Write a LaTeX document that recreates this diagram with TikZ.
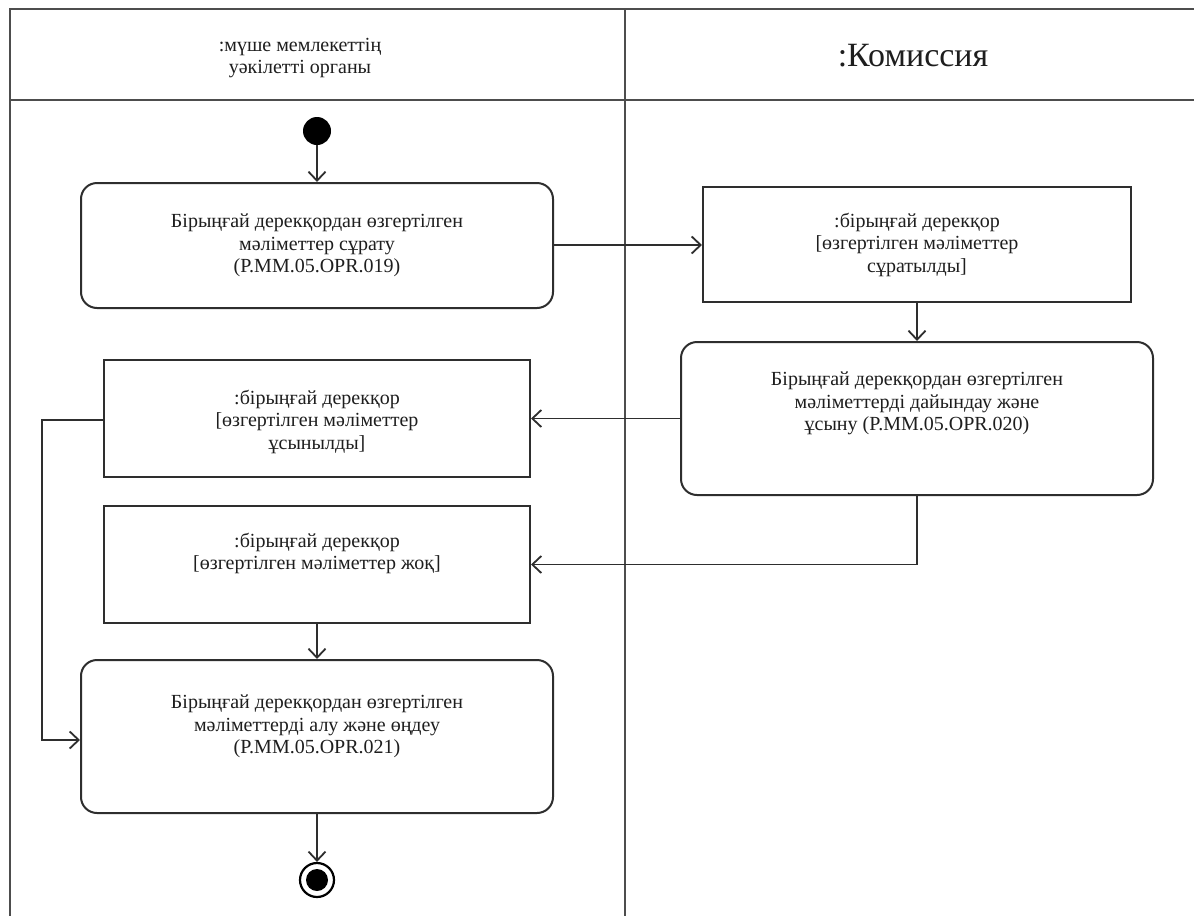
\documentclass[tikz,border=0pt]{standalone}
\usepackage{fontspec}
\setmainfont{Liberation Serif}
\usetikzlibrary{arrows.meta}
\definecolor{ink}{HTML}{2e2e2e}
\definecolor{txt}{HTML}{1e1e1e}
\begin{document}
\begin{tikzpicture}[x=1pt,y=-1pt,
  frame/.style={draw=ink!85,line width=2.6pt},
  boxfont/.style={text=txt,font=\fontsize{20}{22.5}\selectfont},
  actbox/.style={draw=ink,line width=2pt,rounded corners=16pt,align=center,boxfont},
  objbox/.style={draw=ink,line width=2pt,align=center,boxfont},
  flow/.style={draw=ink,line width=1.8pt,-{Straight Barb[length=9pt,width=17pt,line width=1.8pt]}}]
\useasboundingbox (0,0) rectangle (1194,916);
\fill[white] (0,0) rectangle (1194,916);
% swimlanes
\draw[frame] (1194,9) -- (10,9) -- (10,916);
\draw[frame] (10,100) -- (1194,100);
\draw[frame] (625,9) -- (625,916);
\node[align=center,text=txt,font=\fontsize{20}{22.5}\selectfont] (lane1) at (300,58) {:мүше мемлекеттің\\уәкілетті органы};
\node[text=txt,font=\fontsize{34}{38}\selectfont] (lane2) at (913,56) {:Комиссия};
% nodes
\node[circle,fill=black,minimum size=28pt,inner sep=0pt] (start) at (317,131) {};
\node[actbox,minimum width=472pt,minimum height=125pt] (A) at (317,245.5) {Бірыңғай дерекқордан өзгертілген\\мәліметтер сұрату\\(P.MM.05.OPR.019)};
\node[objbox,minimum width=428pt,minimum height=115pt] (B) at (917,244.5) {:бірыңғай дерекқор\\{[}өзгертілген мәліметтер\\сұратылды{]}};
\node[actbox,minimum width=472pt,minimum height=153pt,
  label={[align=center,boxfont,yshift=15pt]center:Бірыңғай дерекқордан өзгертілген\\мәліметтерді дайындау және\\ұсыну (P.MM.05.OPR.020)}] (C) at (917,418.5) {};
\node[objbox,minimum width=426pt,minimum height=117pt,
  label={[align=center,boxfont,yshift=-3pt]center:{:бірыңғай дерекқор}\\{[}өзгертілген мәліметтер\\ұсынылды{]}}] (D) at (317,418.5) {};
\node[objbox,minimum width=426pt,minimum height=117pt,
  label={[align=center,boxfont,yshift=11pt]center:{:бірыңғай дерекқор}\\{[}өзгертілген мәліметтер жоқ{]}}] (E) at (317,564.5) {};
\node[actbox,minimum width=472pt,minimum height=153pt,
  label={[align=center,boxfont,yshift=10pt]center:Бірыңғай дерекқордан өзгертілген\\мәліметтерді алу және өңдеу\\(P.MM.05.OPR.021)}] (F) at (317,736.5) {};
\node[circle,draw=black,line width=2.2pt,minimum size=34pt,inner sep=0pt] (end) at (317,880) {};
\node[circle,fill=black,minimum size=22pt,inner sep=0pt] (endin) at (end.center) {};
% connectors
\coordinate (ab) at (553,245);
\coordinate (dL) at (42,420);
\coordinate (fL) at (42,740);
\draw[flow] (start) -- (A);
\draw[flow] (A.east |- ab) -- (B.west |- ab);
\draw[flow] (B) -- (C);
\draw[flow] (C.west) -- (D.east);
\draw[flow] (C.south) |- (E.east);
\draw[flow] (E) -- (F);
\draw[flow] (D.west |- dL) -- (dL) -- (fL) -- (F.west |- fL);
\draw[flow] (F) -- (end);
\end{tikzpicture}
\end{document}
